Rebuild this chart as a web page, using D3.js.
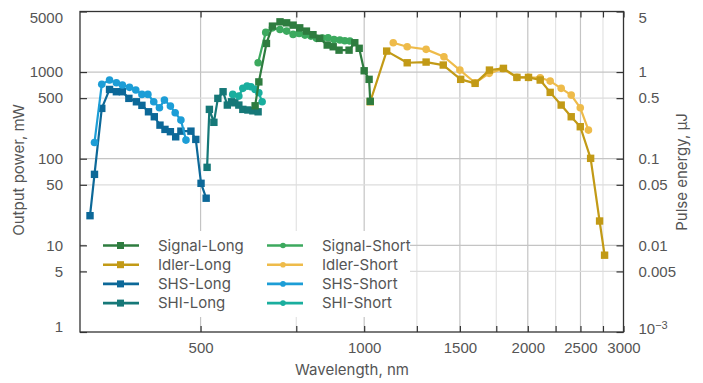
<!DOCTYPE html>
<html>
<head>
<meta charset="utf-8">
<script src="https://cdn.jsdelivr.net/npm/d3@7"></script>
<style>
body { margin: 0; background: #fff; }
svg { font-family: Inter, "Liberation Sans", sans-serif; }
</style>
</head>
<body>
<svg id="svg1" width="703" height="383"></svg>
<script>
// [wavelength nm, output power mW]
var signalLong = [[630,408],[640,770],[661,2140],[678,3390],[700,3800],[720,3700],[740,3480],[761,3240],[783,2970],[805,2700],[828,2450],[855,2050],[877,1960],[899,1790],[938,1790],[961,2180],[979,1880],[1000,1035],[1021,824],[1026,460]];
var signalShort = [[638,1280],[659,2870],[678,3240],[700,3100],[720,2970],[740,2720],[759,2790],[778,2670],[798,2600],[817,2450],[838,2470],[858,2490],[880,2380],[902,2340],[921,2300],[941,2280]];
var idlerLong = [[1026,454],[1100,1746],[1200,1280],[1300,1304],[1398,1205],[1505,824],[1600,741],[1700,1054],[1804,1103],[1910,868],[2006,868],[2108,809],[2199,583],[2304,416],[2404,305],[2498,234],[2610,101],[2711,19.1],[2769,7.7]];
var idlerShort = [[1131,2178],[1200,1958],[1300,1828],[1402,1503],[1500,1054],[1600,753],[1698,966],[1800,1090],[1910,868],[2006,868],[2108,860],[2199,787],[2304,649],[2404,542],[2498,387],[2586,214]];
var shsLong = [[313,22],[319,66],[329,381],[340,630],[350,593],[359,593],[369,497],[381,454],[390,413],[401,348],[411,305],[421,244],[430,218],[440,205],[450,179],[460,208],[480,208],[490,167],[501,52],[512,35]];
var shsShort = [[319,154],[329,721],[340,809],[350,753],[359,708],[370,666],[380,620],[390,552],[400,552],[410,454],[420,387],[429,475],[440,405],[449,339],[460,279],[470,164]];
var shiLong = [[514,79.5],[519,371],[529,263],[538,497],[550,593],[560,416],[570,454],[578,442],[588,416],[598,371],[611,365],[624,357],[638,348]];
var shiShort = [[573,552],[588,528],[598,649],[609,689],[619,676],[630,631],[640,577],[649,454]];

var xTicks = [500, 1000, 1500, 2000, 2500, 3000];
var xMinorTicks = [750, 1250, 1750, 2250, 2750];
var yTicks = [1, 5, 10, 50, 100, 500, 1000, 5000];
var yMajor = [10, 100, 1000];
var yMinor = [5, 50, 500];
var energyTicks = [0.001, 0.005, 0.01, 0.05, 0.1, 0.5, 1, 5];

var series = [
  {name: "SHS-Long",    data: shsLong,    color: "#0c6898", shape: "square"},
  {name: "SHS-Short",   data: shsShort,   color: "#1c9dd6", shape: "circle"},
  {name: "SHI-Long",    data: shiLong,    color: "#167878", shape: "square"},
  {name: "SHI-Short",   data: shiShort,   color: "#1aae9e", shape: "circle"},
  {name: "Idler-Short", data: idlerShort, color: "#eebb4a", shape: "circle"},
  {name: "Idler-Long",  data: idlerLong,  color: "#c29a16", shape: "square"},
  {name: "Signal-Short",data: signalShort,color: "#3ca95e", shape: "circle"},
  {name: "Signal-Long", data: signalLong, color: "#2e7c3f", shape: "square"}
];
var legendOrder = [["Signal-Long","Idler-Long","SHS-Long","SHI-Long"],
                   ["Signal-Short","Idler-Short","SHS-Short","SHI-Short"]];

var plotLeft = 80, plotRight = 623.5, plotTop = 11.5, plotBottom = 332;
var textColor = "#555";

var svg = d3.select('#svg1');

var x = d3.scaleLog().domain([300, 3000]).range([plotLeft, plotRight]);
var y = d3.scaleLog().domain([1, 5000]).range([plotBottom, plotTop]);
var y2 = d3.scaleLog().domain([0.001, 5]).range([plotBottom, plotTop]);

// grid
var grid = svg.append('g');
xMinorTicks.forEach(function(t){
  grid.append('line').attr('x1', x(t)).attr('x2', x(t)).attr('y1', plotTop).attr('y2', plotBottom)
    .attr('stroke', '#e3e3e3').attr('stroke-width', 1.2);
});
xTicks.slice(0, -1).forEach(function(t){
  grid.append('line').attr('x1', x(t)).attr('x2', x(t)).attr('y1', plotTop).attr('y2', plotBottom)
    .attr('stroke', '#c4c4c4').attr('stroke-width', 1.2);
});
yMinor.forEach(function(t){
  grid.append('line').attr('x1', plotLeft).attr('x2', plotRight).attr('y1', y(t)).attr('y2', y(t))
    .attr('stroke', '#dcdcdc').attr('stroke-width', 1.2);
});
yMajor.forEach(function(t){
  grid.append('line').attr('x1', plotLeft).attr('x2', plotRight).attr('y1', y(t)).attr('y2', y(t))
    .attr('stroke', '#c4c4c4').attr('stroke-width', 1.2);
});

// legend background hides grid
svg.append('rect').attr('x', 86).attr('y', 231).attr('width', 324).attr('height', 86).attr('fill', '#fff');

// axes
function styleAxis(g) {
  g.select('.domain').remove();
  g.selectAll('.tick line').attr('stroke', '#333').attr('stroke-width', 1.2);
  g.selectAll('.tick text').attr('fill', textColor).style('font-size', '15px');
}

var yAxis = svg.append('g').attr('transform', 'translate(' + plotLeft + ',0)')
  .call(d3.axisLeft(y).tickValues(yTicks).tickFormat(d3.format('d')).tickSizeInner(-7).tickPadding(17))
  .call(styleAxis);
yAxis.selectAll('.tick text').attr('dy', function(d){ return d == 5000 ? '0.7em' : (d == 1 ? '-0.05em' : '0.32em'); });

var y2Axis = svg.append('g').attr('transform', 'translate(' + plotRight + ',0)')
  .call(d3.axisRight(y2).tickValues(energyTicks).tickFormat(function(d){ return d == 0.001 ? '' : String(d); }).tickSizeInner(-7).tickPadding(15))
  .call(styleAxis);
y2Axis.selectAll('.tick text').attr('dy', function(d){ return d == 5 ? '0.7em' : (d == 0.001 ? '0.1em' : '0.32em'); });
y2Axis.selectAll('.tick').filter(function(d){ return d == 0.001; }).select('text')
  .call(function(t){
    t.append('tspan').text('10');
    t.append('tspan').attr('dy', '-0.45em').style('font-size', '11px').text('\u22123');
  });

var xAxis = svg.append('g').attr('transform', 'translate(0,' + plotBottom + ')')
  .call(d3.axisBottom(x).tickValues(xTicks.concat(xMinorTicks)).tickFormat(function(d){ return xTicks.indexOf(d) >= 0 ? d : ''; }).tickSizeInner(-6).tickPadding(10))
  .call(styleAxis);

var xTop = svg.append('g').attr('transform', 'translate(0,' + plotTop + ')')
  .call(d3.axisTop(x).tickValues(xTicks.concat(xMinorTicks)).tickFormat('').tickSizeInner(-6))
  .call(styleAxis);

// frame
svg.append('rect').attr('x', plotLeft).attr('y', plotTop).attr('width', plotRight - plotLeft).attr('height', plotBottom - plotTop)
  .attr('fill', 'none').attr('stroke', '#333').attr('stroke-width', 1.3);

// series
var line = d3.line().x(function(d){ return x(d[0]); }).y(function(d){ return y(d[1]); });

series.forEach(function(s){
  var g = svg.append('g');
  g.append('path').datum(s.data).attr('d', line).attr('fill', 'none')
    .attr('stroke', s.color).attr('stroke-width', 2.2).attr('stroke-linejoin', 'round');
  if (s.shape == 'square') {
    g.selectAll('rect').data(s.data).enter().append('rect')
      .attr('x', function(d){ return x(d[0]) - 3.7; })
      .attr('y', function(d){ return y(d[1]) - 3.7; })
      .attr('width', 7.4).attr('height', 7.4).attr('fill', s.color);
  } else {
    g.selectAll('circle').data(s.data).enter().append('circle')
      .attr('cx', function(d){ return x(d[0]); })
      .attr('cy', function(d){ return y(d[1]); })
      .attr('r', 3.8).attr('fill', s.color);
  }
});

// legend
var legX = [103, 267], rowY = 245.5, rowH = 19.2;
legendOrder.forEach(function(col, ci){
  col.forEach(function(name, ri){
    var s = series.filter(function(q){ return q.name == name; })[0];
    var ly = rowY + ri * rowH;
    var lg = svg.append('g').attr('transform', 'translate(' + legX[ci] + ',' + ly + ')');
    lg.append('line').attr('x1', 0).attr('x2', 36).attr('stroke', s.color).attr('stroke-width', 2.6);
    if (s.shape == 'square') {
      lg.append('rect').attr('x', 14).attr('y', -3.5).attr('width', 7).attr('height', 7).attr('fill', s.color);
    } else {
      lg.append('circle').attr('cx', 16).attr('r', 2.8).attr('fill', s.color);
    }
    lg.append('text').attr('x', 55).attr('dy', '0.35em').attr('fill', textColor)
      .style('font-size', '15px').text(name);
  });
});

// axis titles
svg.append('text').attr('transform', 'translate(24,170) rotate(-90)').attr('text-anchor', 'middle')
  .attr('fill', textColor).style('font-size', '15px').text('Output power, mW');
svg.append('text').attr('transform', 'translate(687,172) rotate(-90)').attr('text-anchor', 'middle')
  .attr('fill', textColor).style('font-size', '15px').text('Pulse energy, \u00b5J');
svg.append('text').attr('x', 352).attr('y', 375).attr('text-anchor', 'middle')
  .attr('fill', textColor).style('font-size', '15px').text('Wavelength, nm');
</script>
</body>
</html>
